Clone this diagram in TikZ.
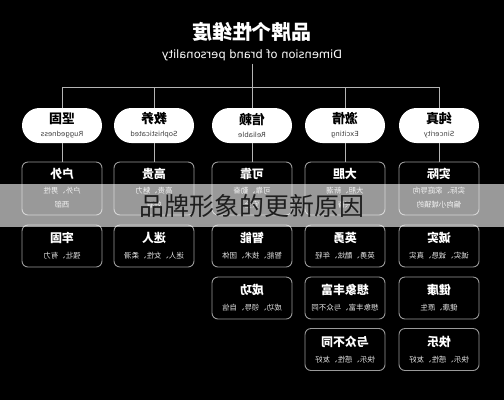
\documentclass[tikz,border=0pt]{standalone}
\usepackage{fontspec}
\newfontfamily\cjk{Noto Sans CJK SC}
\newfontfamily\latin{DejaVu Sans}
\definecolor{bplinecol}{HTML}{B4B4B4}
\definecolor{bpedge}{HTML}{9A9A9A}
\definecolor{bpsub}{HTML}{404040}
\definecolor{bptext}{HTML}{E4E4E4}
\definecolor{bpmark}{HTML}{1E1E1E}
\newcommand\bphead[2]{{\cjk\bfseries\fontsize{13}{14}\selectfont #1}\\[1bp]{\latin\fontsize{7}{8}\selectfont\color{bpsub}#2}}
\newcommand\bpname{\cjk\bfseries\fontsize{12}{13}\selectfont}
\newcommand\bpdesc{\cjk\fontsize{7.5}{9}\selectfont\color{bptext}}
\tikzset{
  bpflip/.style ={xscale=-1},
  bppill/.style ={bpflip, rectangle, rounded corners=17.5bp, fill=white,
                  minimum width=80bp, minimum height=35bp, inner sep=0pt,
                  align=center, text=black},
  bpbox/.style  ={bpflip, rectangle, rounded corners=6bp, draw=bpedge, fill=black,
                  line width=0.9bp, minimum width=80bp, minimum height=42bp,
                  inner sep=0pt, align=center, text=white},
  bptall/.style ={bpbox, minimum height=53bp},
  bplink/.style ={draw=bplinecol, line width=0.9bp},
}
\begin{document}
\begin{tikzpicture}[x=1bp, y=-1bp]
  \useasboundingbox (0,0) rectangle (504,400);
  \fill[black] (0,0) rectangle (504,400);
  % heading
  \node[bpflip, text=white, font=\cjk\bfseries\fontsize{20}{22}\selectfont]
       (title) at (252,32) {品牌个性维度};
  \node[bpflip, text=white, inner sep=3bp, font=\latin\fontsize{11.5}{13}\selectfont]
       (sub) at (252,55) {Dimension of brand personality};
  \coordinate (hub) at (252,87);
  % dimensions
  \node[bppill] (d1) at (62,125.5)  {\bphead{坚固}{Ruggedness}};
  \node[bppill] (d2) at (154,125.5) {\bphead{教养}{Sophisticated}};
  \node[bppill] (d3) at (252,125.5) {\bphead{信赖}{Reliable}};
  \node[bppill] (d4) at (345,125.5) {\bphead{激情}{Exciting}};
  \node[bppill] (d5) at (439,125.5) {\bphead{纯真}{Sincerity}};
  \draw[bplink] (sub.south) -- (hub);
  \draw[bplink] (hub) -| (d1.north);
  \draw[bplink] (hub) -| (d2.north);
  \draw[bplink] (hub) -- (d3.north);
  \draw[bplink] (hub) -| (d4.north);
  \draw[bplink] (hub) -| (d5.north);
  % facets, row 1
  \node[bptall] (f11) at (62,188.5)  {\bpname 户外\\[3bp]\bpdesc 户外、男性\\[2bp]\bpdesc 西部};
  \node[bptall] (f21) at (154,188.5) {\bpname 高贵\\[3bp]\bpdesc 高贵、魅力\\[2bp]\bpdesc 好看};
  \node[bptall] (f31) at (252,188.5) {\bpname 可靠\\[3bp]\bpdesc 可靠、勤奋\\[2bp]\bpdesc 安全};
  \node[bptall] (f41) at (345,188.5) {\bpname 大胆\\[3bp]\bpdesc 大胆、新潮\\[2bp]\bpdesc 兴奋};
  \node[bptall] (f51) at (439,188.5) {\bpname 实际\\[3bp]\bpdesc 实际、家庭导向\\[2bp]\bpdesc 偏向小城镇的};
  \draw[bplink] (d1.south) -- (f11.north);
  \draw[bplink] (d2.south) -- (f21.north);
  \draw[bplink] (d3.south) -- (f31.north);
  \draw[bplink] (d4.south) -- (f41.north);
  \draw[bplink] (d5.south) -- (f51.north);
  % facets, row 2
  \node[bpbox] (f12) at (62,246)  {\bpname 牢固\\[4bp]\bpdesc 强壮、有力};
  \node[bpbox] (f22) at (154,246) {\bpname 迷人\\[4bp]\bpdesc 迷人、女性、柔滑};
  \node[bpbox] (f32) at (252,246) {\bpname 智能\\[4bp]\bpdesc 智能、技术、团体};
  \node[bpbox] (f42) at (345,246) {\bpname 英勇\\[4bp]\bpdesc 英勇、酷炫、年轻};
  \node[bpbox] (f52) at (439,246) {\bpname 诚实\\[4bp]\bpdesc 诚实、诚恳、真实};
  % facets, rows 3 and 4
  \node[bpbox] (f33) at (252,298) {\bpname 成功\\[4bp]\bpdesc 成功、领导、自信};
  \node[bpbox] (f43) at (345,298) {\bpname 想象丰富\\[4bp]\bpdesc 想象丰富、与众不同};
  \node[bpbox] (f53) at (439,298) {\bpname 健康\\[4bp]\bpdesc 健康、原生};
  \node[bpbox] (f44) at (345,349.5) {\bpname 与众不同\\[4bp]\bpdesc 快乐、感性、友好};
  \node[bpbox] (f54) at (439,349.5) {\bpname 快乐\\[4bp]\bpdesc 快乐、感性、友好};
  % caption band laid over the chart
  \fill[white, opacity=0.6] (0,184) rectangle (504,227);
  \node[text=bpmark, font=\cjk\fontsize{25}{27}\selectfont] (band) at (252,206) {品牌形象的更新原因};
\end{tikzpicture}
\end{document}
